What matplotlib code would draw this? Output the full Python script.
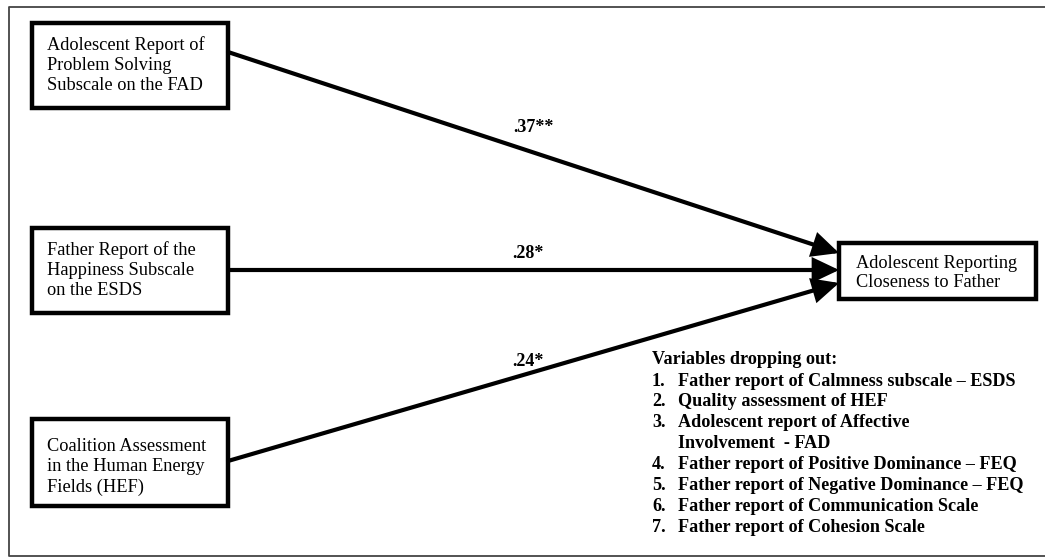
import matplotlib.pyplot as plt
from matplotlib.patches import Rectangle, FancyArrowPatch

# DATA
source_labels = [
    'Adolescent Report of\nProblem Solving\nSubscale on the FAD',
    'Father Report of the\nHappiness Subscale\non the ESDS',
    'Coalition Assessment\nin the Human Energy\nFields (HEF)',
]
outcome_label = 'Adolescent Reporting\nCloseness to Father'
path_coefs = ['.37**', '.28*', '.24*']
dropped_title = 'Variables dropping out:'
dropped_items = [
    'Father report of Calmness subscale \u2013 ESDS',
    'Quality assessment of HEF',
    'Adolescent report of Affective\nInvolvement  - FAD',
    'Father report of Positive Dominance \u2013 FEQ',
    'Father report of Negative Dominance \u2013 FEQ',
    'Father report of Communication Scale',
    'Father report of Cohesion Scale',
]

# LAYOUT (pixel space, y down)
W, H = 1045, 559
src_boxes = [(32, 23, 196, 85), (32, 228, 196, 85), (32, 419, 196, 87)]
src_text_y = [65, 270, 467]
out_box = (839, 243, 197, 56)
line_starts = [(228, 52), (228, 270), (228, 461)]
line_ends = [(839, 253), (839, 270), (839, 283)]
coef_pos = [(533, 128), (528, 254), (528, 361)]

plt.rcParams['font.family'] = ['Liberation Serif', 'DejaVu Serif']

fig = plt.figure(figsize=(W / 100, H / 100), dpi=100)
ax = fig.add_axes([0, 0, 1, 1])
ax.set_xlim(0, W)
ax.set_ylim(H, 0)
ax.set_axis_off()

# outer frame (left, top, bottom only)
ax.plot([W, 9, 9, W], [7, 7, 556, 556], color='#444444', lw=1.3, solid_capstyle='butt')

for (x, y, w, h), ty, label in zip(src_boxes, src_text_y, source_labels):
    ax.add_patch(Rectangle((x, y), w, h, fill=False, ec='black', lw=3.2, joinstyle='miter'))
    ax.text(x + 15, ty, label, ha='left', va='center', fontsize=13.2, linespacing=1.24)

x, y, w, h = out_box
ax.add_patch(Rectangle((x, y), w, h, fill=False, ec='black', lw=3.2, joinstyle='miter'))
ax.text(x + 17, y + h / 2 + 2, outcome_label, ha='left', va='center', fontsize=13.2, linespacing=1.2)

for p0, p1 in zip(line_starts, line_ends):
    arr = FancyArrowPatch(p0, p1, arrowstyle='-|>,head_length=1.05,head_width=0.5',
                          mutation_scale=14, lw=3, color='black',
                          shrinkA=0, shrinkB=0, joinstyle='miter')
    ax.add_patch(arr)

for (cx, cy), c in zip(coef_pos, path_coefs):
    ax.text(cx, cy, c, ha='center', va='center', fontsize=13, fontweight='bold')

ax.text(652, 360, dropped_title, ha='left', va='center', fontsize=13.1, fontweight='bold')
row = 381
for i, item in enumerate(dropped_items):
    ax.text(652, row, f'{i + 1}.', ha='left', va='center', fontsize=13.1, fontweight='bold')
    for ln in item.split('\n'):
        ax.text(678, row, ln, ha='left', va='center', fontsize=13.1, fontweight='bold')
        row += 20.9

fig.savefig('out.png', dpi=100, facecolor='white')
